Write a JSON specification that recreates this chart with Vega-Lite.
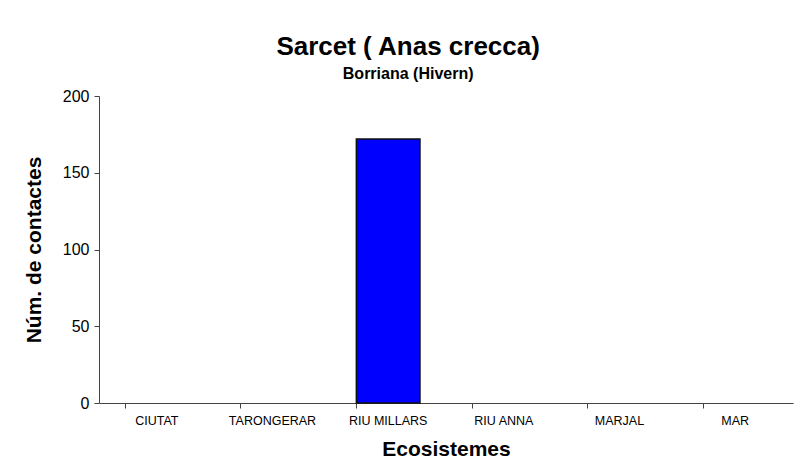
{
  "$schema": "https://vega.github.io/schema/vega-lite/v6.json",
  "autosize": "none",
  "width": 694,
  "height": 307,
  "padding": {"left": 99, "top": 96, "right": 7, "bottom": 63},
  "background": "white",
  "title": {
    "text": "Sarcet ( Anas crecca)",
    "subtitle": "Borriana (Hivern)",
    "frame": "bounds",
    "anchor": "middle",
    "font": "Liberation Sans",
    "fontSize": 26,
    "fontWeight": "bold",
    "color": "black",
    "subtitleFont": "Liberation Sans",
    "subtitleFontSize": 16,
    "subtitleFontWeight": "bold",
    "subtitleColor": "black",
    "subtitlePadding": 6,
    "offset": 6
  },
  "data": {
    "values": [
      {"eco": "CIUTAT", "n": 0},
      {"eco": "TARONGERAR", "n": 0},
      {"eco": "RIU MILLARS", "n": 172},
      {"eco": "RIU ANNA", "n": 0},
      {"eco": "MARJAL", "n": 0},
      {"eco": "MAR", "n": 0}
    ]
  },
  "mark": {"type": "bar", "fill": "#0000FF", "strokeWidth": 1.5},
  "encoding": {
    "x": {
      "field": "eco",
      "type": "nominal",
      "sort": null,
      "scale": {"paddingInner": 0.45, "paddingOuter": 0.225},
      "axis": {
        "title": "Ecosistemes",
        "titleFont": "Liberation Sans",
        "titleFontSize": 21,
        "titleFontWeight": "bold",
        "titleColor": "black",
        "titlePadding": 12,
        "labelAngle": 0,
        "labelFont": "Liberation Sans",
        "labelFontSize": 12.5,
        "labelColor": "black",
        "labelPadding": 6,
        "bandPosition": 0,
        "tickSize": 5,
        "tickColor": "#444444",
        "domainColor": "#444444"
      }
    },
    "y": {
      "field": "n",
      "type": "quantitative",
      "scale": {"domain": [0, 200], "nice": false},
      "axis": {
        "title": "Núm. de contactes",
        "titleFont": "Liberation Sans",
        "titleFontSize": 21,
        "titleFontWeight": "bold",
        "titleColor": "black",
        "titlePadding": 18,
        "values": [0, 50, 100, 150, 200],
        "grid": false,
        "labelFont": "Liberation Sans",
        "labelFontSize": 16,
        "labelColor": "black",
        "labelPadding": 5,
        "tickSize": 5,
        "tickColor": "#444444",
        "domainColor": "#444444"
      }
    },
    "stroke": {
      "condition": {"test": "datum.n > 0", "value": "#111111"},
      "value": null
    }
  },
  "config": {"view": {"stroke": null}}
}
